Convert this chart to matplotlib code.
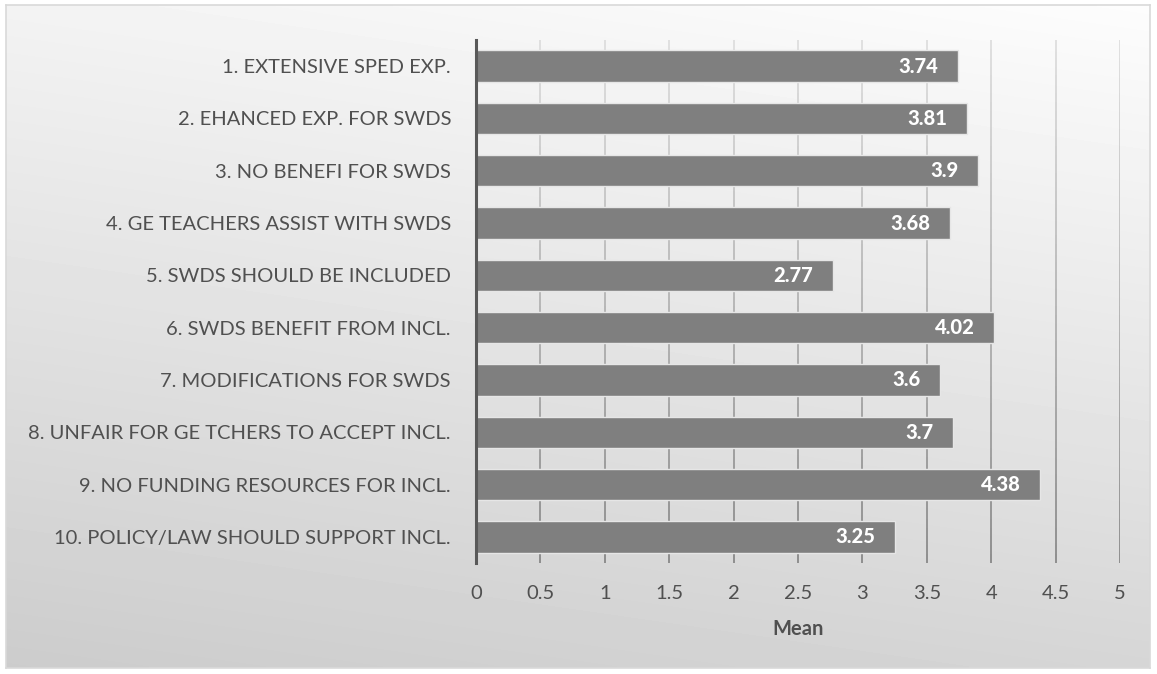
import numpy as np
import matplotlib
matplotlib.use("Agg")
import matplotlib.pyplot as plt
from matplotlib.collections import LineCollection

# ---------------------------------------------------------
# data
# ---------------------------------------------------------
items = [
    "1. EXTENSIVE SPED EXP.",
    "2. EHANCED EXP. FOR SWDS",
    "3. NO BENEFI FOR SWDS",
    "4. GE TEACHERS ASSIST WITH SWDS",
    "5. SWDS SHOULD BE INCLUDED",
    "6. SWDS BENEFIT FROM INCL.",
    "7. MODIFICATIONS FOR SWDS",
    "8. UNFAIR FOR GE TCHERS TO ACCEPT INCL.",
    "9. NO FUNDING RESOURCES FOR INCL.",
    "10. POLICY/LAW SHOULD SUPPORT INCL.",
]
means = [3.74, 3.81, 3.9, 3.68, 2.77, 4.02, 3.6, 3.7, 4.38, 3.25]
value_labels = ["3.74", "3.81", "3.9", "3.68", "2.77", "4.02", "3.6", "3.7", "4.38", "3.25"]
x_ticks = [0, 0.5, 1, 1.5, 2, 2.5, 3, 3.5, 4, 4.5, 5]
x_tick_labels = ["0", "0.5", "1", "1.5", "2", "2.5", "3", "3.5", "4", "4.5", "5"]

plt.rcParams["font.family"] = ["Lato", "DejaVu Sans"]
text_color = "#505050"
fs = 14.5

fig = plt.figure(figsize=(11.57, 6.74), dpi=100)

# ---------------------------------------------------------
# background gradient + border
# ---------------------------------------------------------
bg_ax = fig.add_axes([6 / 1157, 1 - 668 / 674, 1144 / 1157, 663 / 674])
gx, gy = np.meshgrid(np.linspace(0, 1, 300), np.linspace(0, 1, 200))
t = 0.8 * gy + 0.2 * (1 - gx)
shade = 0.99 - 0.19 * t
bg_ax.imshow(shade, cmap="gray", vmin=0, vmax=1, aspect="auto",
             extent=[0, 1, 1, 0], interpolation="bilinear")
bg_ax.set_xticks([])
bg_ax.set_yticks([])
for s in bg_ax.spines.values():
    s.set_color("#d9d9d9")
    s.set_linewidth(1.2)

# ---------------------------------------------------------
# bar chart
# ---------------------------------------------------------
ax = fig.add_axes([476 / 1157, 1 - 563 / 674, 644 / 1157, 523 / 674])
ax.patch.set_alpha(0)

y = np.arange(len(items))
ax.set_xlim(0, 5)
ax.set_ylim(len(items) - 0.5, -0.5)

# gridlines, darker toward the bottom like the original
top_col = np.array([0.85, 0.85, 0.85])
bot_col = np.array([0.48, 0.48, 0.48])
ys = np.linspace(-0.5, len(items) - 0.5, 60)
for xt in x_ticks[1:]:
    segs = [[(xt, ys[i]), (xt, ys[i + 1])] for i in range(len(ys) - 1)]
    fr = np.linspace(0, 1, len(segs))[:, None]
    cols = top_col * (1 - fr) + bot_col * fr
    ax.add_collection(LineCollection(segs, colors=cols, linewidths=1.1, zorder=1))

bars = ax.barh(y, means, height=0.6, color="#7f7f7f",
               edgecolor="#e6e6e6", linewidth=1.0, zorder=2)

for b, lab in zip(bars, value_labels):
    ax.annotate(lab, xy=(b.get_width(), b.get_y() + b.get_height() / 2),
                xytext=(-14, 0), textcoords="offset points",
                ha="right", va="center", color="white",
                fontsize=fs, fontweight="black", zorder=3)

ax.set_yticks(y)
ax.set_yticklabels(items, fontsize=fs, color=text_color)
ax.set_xticks(x_ticks)
ax.set_xticklabels(x_tick_labels, fontsize=fs, color=text_color)
ax.tick_params(axis="y", length=0, pad=18)
ax.tick_params(axis="x", length=0, pad=16)

ax.set_xlabel("Mean", fontsize=fs, fontweight="bold", color=text_color, labelpad=12)

for side in ["top", "right", "bottom"]:
    ax.spines[side].set_visible(False)
ax.spines["left"].set_color("#595959")
ax.spines["left"].set_linewidth(2.2)
ax.spines["left"].set_zorder(4)

fig.savefig("out.png", dpi=100)
plt.close(fig)
